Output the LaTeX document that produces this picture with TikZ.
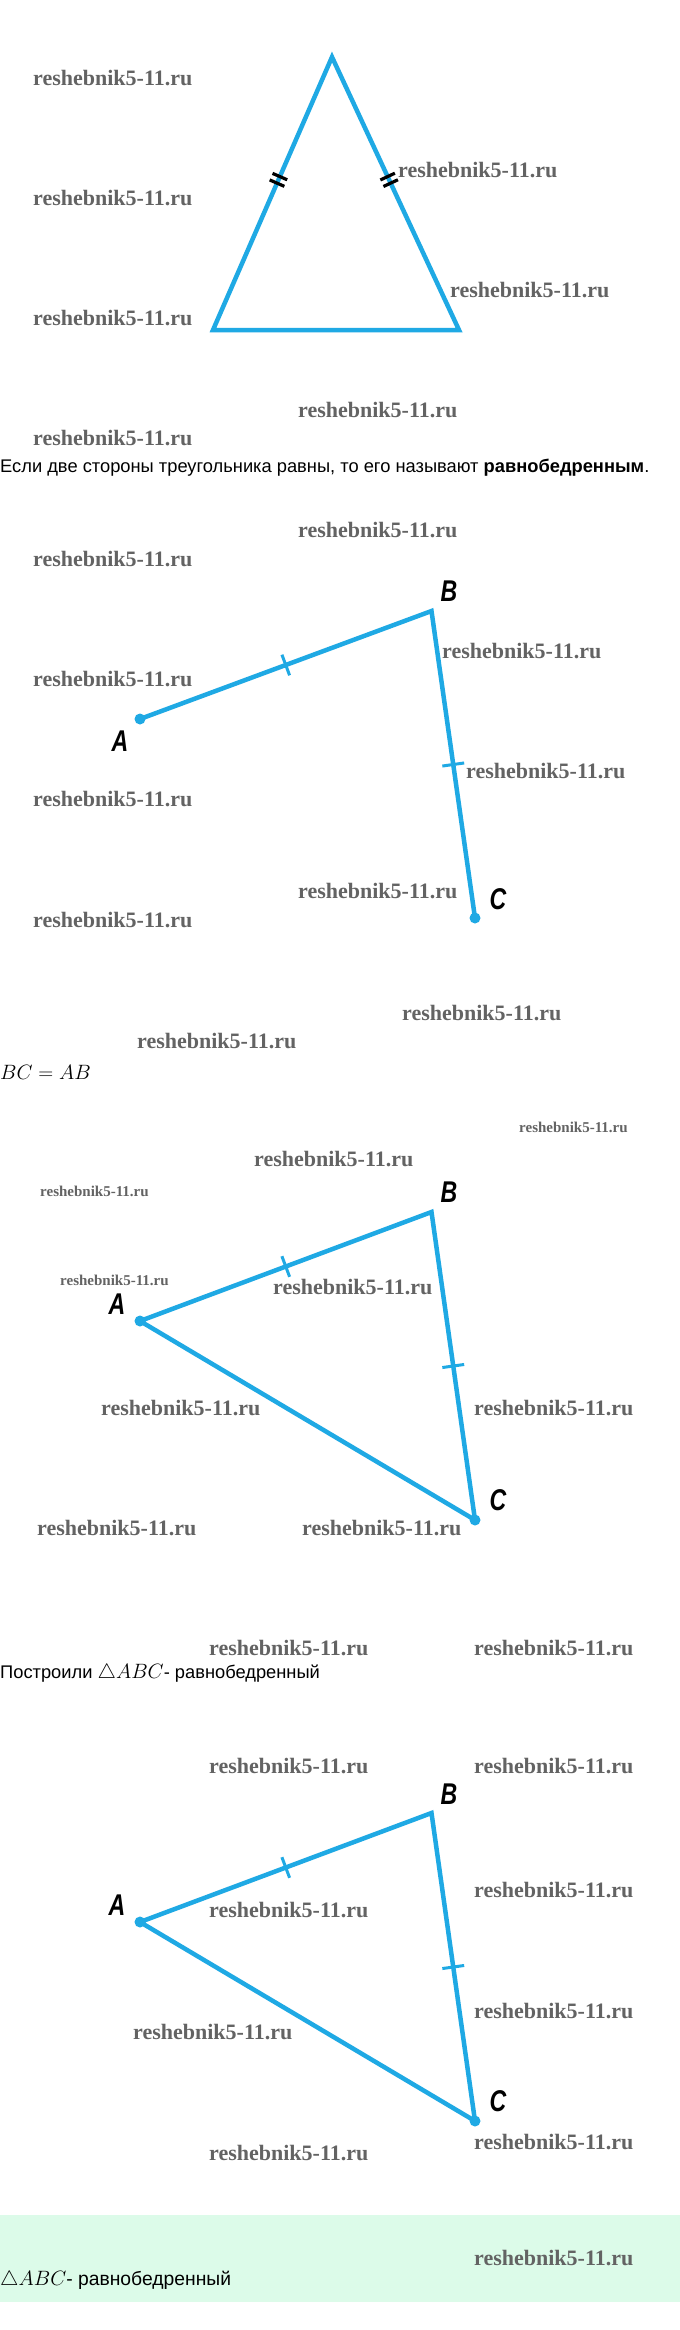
\documentclass[tikz,border=0pt]{standalone}
\usepackage{fontspec}
\usetikzlibrary{calc}
\newfontfamily\rufont{Liberation Sans}
\newfontfamily\wmfont{Liberation Serif}
\newfontfamily\ptfont{Liberation Sans}[FakeStretch=0.77]
\definecolor{lineblue}{HTML}{1FA9E4}
\definecolor{wmgray}{HTML}{636363}
\definecolor{mint}{HTML}{DCFBE9}

\begin{document}
\begin{tikzpicture}[x=1pt,y=-1pt]
    \tikzstyle{side}=[lineblue, line width=4.5pt]
    \tikzstyle{dot}=[circle, fill=lineblue, inner sep=0pt, minimum size=11pt]
    \tikzstyle{tick}=[lineblue, line width=3pt]
    \tikzstyle{dtick}=[black, line width=3.2pt]
    \tikzstyle{vname}=[inner sep=0pt, font=\ptfont\bfseries\itshape\fontsize{30}{30}\selectfont]
    \tikzstyle{wm}=[anchor=west, inner sep=0pt, text=wmgray, font=\wmfont\bfseries\fontsize{22}{22}\selectfont]
    \tikzstyle{wms}=[wm, font=\wmfont\bfseries\fontsize{15}{15}\selectfont]
    \tikzstyle{txt}=[anchor=west, inner sep=0pt, font=\rufont\fontsize{18.3}{18.3}\selectfont]
    \newcommand\mth[1]{{\fontsize{19.5}{19.5}\selectfont$#1$}}

    \useasboundingbox (0,0) rectangle (680,2330);
    \fill[white] (0,0) rectangle (680,2330);
    \fill[mint] (0,2215) rectangle (680,2302);

    % watermarks
    \foreach \x/\y [count=\i] in {33/78, 33/198, 33/318, 398/170, 450/290, 298/410, 33/438,
        298/530, 33/559, 442/651, 33/679, 466/771, 33/799, 298/891, 33/920, 402/1013, 137/1041,
        254/1159, 273/1287, 101/1408, 474/1408, 37/1528, 302/1528, 209/1648, 474/1648,
        209/1766, 474/1766, 474/1890, 209/1910, 474/2011, 133/2032, 474/2142, 209/2153, 474/2258}
        \node[wm] (w\i) at (\x,\y) {reshebnik5-11.ru};
    \foreach \x/\y [count=\i] in {519/1127, 40/1191, 60/1280}
        \node[wms] (ws\i) at (\x,\y) {reshebnik5-11.ru};

    % isosceles triangle
    \coordinate (top) at (332,57);
    \coordinate (bl) at (213,330);
    \coordinate (br) at (459,330);
    \draw[side] (top) -- (bl) -- (br) -- cycle;
    \foreach \p in {0.438,0.462} {
        \coordinate (ml) at ($(top)!\p!(bl)$);
        \coordinate (mr) at ($(top)!\p!(br)$);
        \draw[dtick] ($(ml)!8pt!90:(bl)$) -- ($(ml)!8pt!-90:(bl)$);
        \draw[dtick] ($(mr)!8pt!90:(br)$) -- ($(mr)!8pt!-90:(br)$);
    }

    \node[txt] (t1) at (0,468) {Если две стороны треугольника равны, то его называют \textbf{равнобедренным}.};

    % AB and BC
    \coordinate (b2) at (431.5,611);
    \node[dot] (a2) at (140,719) {};
    \node[dot] (c2) at (475,918) {};
    \draw[side] (a2.center) -- (b2) -- (c2.center);
    \coordinate (mab2) at ($(a2)!0.5!(b2)$);
    \coordinate (mbc2) at ($(b2)!0.5!(c2)$);
    \draw[tick] ($(mab2)!11pt!90:(b2)$) -- ($(mab2)!11pt!-90:(b2)$);
    \draw[tick] ($(mbc2)!11pt!90:(c2)$) -- ($(mbc2)!11pt!-90:(c2)$);
    \node[vname] (la2) at (120,741) {A};
    \node[vname] (lb2) at (449,591) {B};
    \node[vname] (lc2) at (498,899) {C};

    \node[anchor=west, inner sep=0pt, font=\fontsize{20}{20}\selectfont] (t2) at (0,1072) {$BC = AB$};

    % triangle ABC
    \coordinate (b3) at (431.5,1212);
    \node[dot] (a3) at (140,1321) {};
    \node[dot] (c3) at (475,1520) {};
    \draw[side] (a3.center) -- (b3) -- (c3.center) -- cycle;
    \coordinate (mab3) at ($(a3)!0.5!(b3)$);
    \coordinate (mbc3) at ($(b3)!0.5!(c3)$);
    \draw[tick] ($(mab3)!11pt!90:(b3)$) -- ($(mab3)!11pt!-90:(b3)$);
    \draw[tick] ($(mbc3)!11pt!90:(c3)$) -- ($(mbc3)!11pt!-90:(c3)$);
    \node[vname] (la3) at (117,1304) {A};
    \node[vname] (lb3) at (449,1192) {B};
    \node[vname] (lc3) at (498,1500) {C};

    \node[txt] (t3) at (0,1673) {Построили \mth{\triangle ABC}- равнобедренный};

    % triangle ABC again
    \coordinate (b4) at (431.5,1813);
    \node[dot] (a4) at (140,1922) {};
    \node[dot] (c4) at (475,2121) {};
    \draw[side] (a4.center) -- (b4) -- (c4.center) -- cycle;
    \coordinate (mab4) at ($(a4)!0.5!(b4)$);
    \coordinate (mbc4) at ($(b4)!0.5!(c4)$);
    \draw[tick] ($(mab4)!11pt!90:(b4)$) -- ($(mab4)!11pt!-90:(b4)$);
    \draw[tick] ($(mbc4)!11pt!90:(c4)$) -- ($(mbc4)!11pt!-90:(c4)$);
    \node[vname] (la4) at (117,1905) {A};
    \node[vname] (lb4) at (449,1794) {B};
    \node[vname] (lc4) at (498,2101) {C};

    \node[txt, font=\rufont\fontsize{19.3}{19.3}\selectfont] (t4) at (0,2280) {{\fontsize{20.5}{20.5}\selectfont$\triangle ABC$}- равнобедренный};
\end{tikzpicture}
\end{document}
